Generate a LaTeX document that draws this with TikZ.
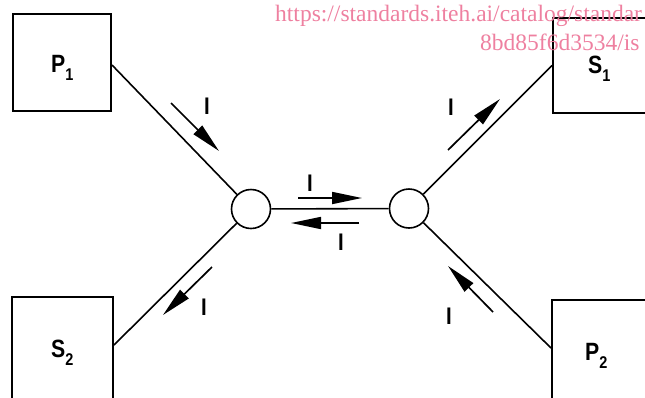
\documentclass[tikz,border=0pt]{standalone}
\usepackage{fontspec}
\setmainfont{Liberation Sans}
\newfontfamily\labfont[FakeStretch=0.85]{Liberation Sans Bold}
\newfontfamily\wmfont{Liberation Serif}
\usetikzlibrary{arrows.meta}
\definecolor{wmpink}{RGB}{238,128,160}
\newcommand\lsub[1]{\raisebox{-8pt}{\fontsize{17}{17}\selectfont #1}}
\begin{document}
\begin{tikzpicture}[x=1pt,y=-1pt,
  box/.style={draw,line width=2pt,inner sep=0pt},
  junction/.style={circle,draw,line width=1.6pt,minimum size=39pt,inner sep=0pt},
  conn/.style={line width=1.6pt},
  flow/.style={line width=1.7pt,-{Triangle[length=30pt,width=12pt]}},
  lab/.style={inner sep=0pt,anchor=base west,font=\labfont\fontsize{25}{25}\selectfont},
  cur/.style={inner sep=0pt,font=\labfont\fontsize{24}{24}\selectfont},
  wm/.style={inner sep=0pt,anchor=base west,text=wmpink,font=\wmfont\fontsize{23.5}{23.5}\selectfont}]
\useasboundingbox (0,0) rectangle (645,397);
\clip (0,0) rectangle (645,397);
% boxes
\node[box,minimum width=98pt,minimum height=97pt] (P1) at (62,62.5) {};
\node[box,minimum width=96pt,minimum height=95pt] (S1) at (601,65.5) {};
\node[box,minimum width=101pt,minimum height=110pt] (S2) at (62.5,352) {};
\node[box,minimum width=96pt,minimum height=110pt] (P2) at (600,355) {};
% labels
\node[lab] (P1l) at (51,72) {P\lsub{1}};
\node[lab] (S1l) at (588,73) {S\lsub{1}};
\node[lab] (S2l) at (51,357) {S\lsub{2}};
\node[lab] (P2l) at (585,360) {P\lsub{2}};
% junctions
\node[junction] (C1) at (251,209) {};
\node[junction] (C2) at (409,208.5) {};
% connectors
\draw[conn] ([yshift=-2.5pt]P1.east) -- (C1);
\draw[conn] (C1) -- (C2);
\draw[conn] (C2) -- (S1.west);
\draw[conn] (C1) -- ([yshift=7pt]S2.east);
\draw[conn] (C2) -- ([yshift=7pt]P2.west);
% current arrows
\coordinate (a1s) at (171,103); \coordinate (a1e) at (219,151);
\coordinate (a2s) at (298,198); \coordinate (a2e) at (362,198);
\coordinate (a3s) at (359,223); \coordinate (a3e) at (291,223);
\coordinate (a4s) at (448,150); \coordinate (a4e) at (500,99);
\coordinate (a5s) at (212,267); \coordinate (a5e) at (163,315);
\coordinate (a6s) at (493,312); \coordinate (a6e) at (448,266);
\draw[flow] (a1s) -- (a1e);
\draw[flow] (a2s) -- (a2e);
\draw[flow] (a3s) -- (a3e);
\draw[flow] (a4s) -- (a4e);
\draw[flow] (a5s) -- (a5e);
\draw[flow] (a6s) -- (a6e);
\node[cur] (I1) at (207,106.5) {I};
\node[cur] (I2) at (310,183) {I};
\node[cur] (I3) at (341,242) {I};
\node[cur] (I4) at (451,107) {I};
\node[cur] (I5) at (204,307) {I};
\node[cur] (I6) at (449,316) {I};
% watermark
\node[wm] (wm1) at (275,21) {https://standards.iteh.ai/catalog/standar};
\node[wm] (wm2) at (480,50) {8bd85f6d3534/is};
\end{tikzpicture}
\end{document}
